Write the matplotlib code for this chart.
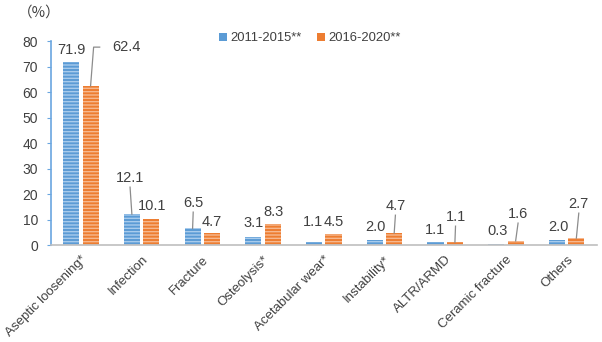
import matplotlib
matplotlib.use('Agg')
import matplotlib.pyplot as plt
import numpy as np

plt.rcParams['font.family'] = ['Liberation Sans', 'DejaVu Sans']
plt.rcParams['hatch.linewidth'] = 1.0

# Data
categories = ['Aseptic loosening*', 'Infection', 'Fracture', 'Osteolysis*',
              'Acetabular wear*', 'Instability*', 'ALTR/ARMD',
              'Ceramic fracture', 'Others']
series_names = ['2011-2015**', '2016-2020**']
vals_2011 = [71.9, 12.1, 6.5, 3.1, 1.1, 2.0, 1.1, 0.3, 2.0]
vals_2016 = [62.4, 10.1, 4.7, 8.3, 4.5, 4.7, 1.1, 1.6, 2.7]

# label placement (data coords of text centre) and whether a leader line is drawn
lab_pos_2011 = [(-0.16, 76.5), (0.81, 26.3), (1.85, 16.5), (2.84, 8.6), (3.83, 9.0),
                (4.85, 7.1), (5.84, 5.9), (6.87, 5.5), (7.87, 7.1)]
lab_pos_2016 = [(0.75, 77.6), (1.17, 15.3), (2.16, 9.0), (3.17, 12.9), (4.16, 9.0),
                (5.18, 15.3), (6.17, 11.0), (7.20, 12.2), (8.20, 16.1)]
leader_2011 = [False, True, True, False, False, False, False, False, False]
leader_2016 = [True, False, False, False, False, True, True, True, True]

blue = '#5B9BD5'
orange = '#ED7D31'
txt = '#404040'

fig = plt.figure(figsize=(6.02, 3.42), dpi=100)
ax = fig.add_axes([0.0839, 0.2836, 0.9078, 0.5965])

x = np.arange(len(categories))
w = 0.265
off = 0.16
ax.bar(x - off, vals_2011, w, facecolor=blue, edgecolor='#A8CBEC', linewidth=0,
       hatch='-----', label=series_names[0])
ax.bar(x + off, vals_2016, w, facecolor=orange, edgecolor='#F6B88F', linewidth=0,
       hatch='-----', label=series_names[1])

ax.set_xlim(-0.5, len(categories) - 0.5)
ax.set_ylim(0, 80)
ax.set_yticks(np.arange(0, 81, 10))
ax.set_xticks(x)
ax.set_xticklabels(categories, rotation=45, ha='right', rotation_mode='anchor',
                   fontsize=9.5, color=txt)
ax.tick_params(axis='x', length=0, pad=6)
ax.tick_params(axis='y', length=3, color='#6AA6E0', labelsize=10, labelcolor=txt, pad=6)

for s in ['top', 'right']:
    ax.spines[s].set_visible(False)
ax.spines['left'].set_color('#6AA6E0')
ax.spines['left'].set_linewidth(1.2)
ax.spines['bottom'].set_color('#BFBFBF')
ax.spines['bottom'].set_linewidth(1.2)

line_kw = dict(color='#8C8C8C', linewidth=0.9)


def put_labels(vals, pos, leaders, xo):
    for i, v in enumerate(vals):
        tx, ty = pos[i]
        ax.text(tx, ty, f'{v:.1f}', ha='center', va='center', fontsize=10.5, color=txt)
        if leaders[i]:
            bx = i + xo
            if i == 0 and xo > 0:
                ax.plot([bx, bx + 0.05, bx + 0.15], [v, ty, ty], **line_kw)
            else:
                ax.plot([bx, tx], [v, ty - 3.6], **line_kw)


put_labels(vals_2011, lab_pos_2011, leader_2011, -off)
put_labels(vals_2016, lab_pos_2016, leader_2016, off)

leg = fig.legend(loc='center', bbox_to_anchor=(0.515, 0.888), ncol=2, frameon=False,
                 fontsize=9.4, handlelength=0.6, handleheight=0.6, handletextpad=0.25,
                 columnspacing=1.2, labelcolor=txt)
for h in leg.legend_handles:
    h.set_hatch(None)

fig.text(0.065, 0.962, '（%）', ha='center', va='center', fontsize=10.5, color=txt,
         family=['Noto Sans CJK JP', 'DejaVu Sans'])

fig.savefig('out.png', dpi=100)
